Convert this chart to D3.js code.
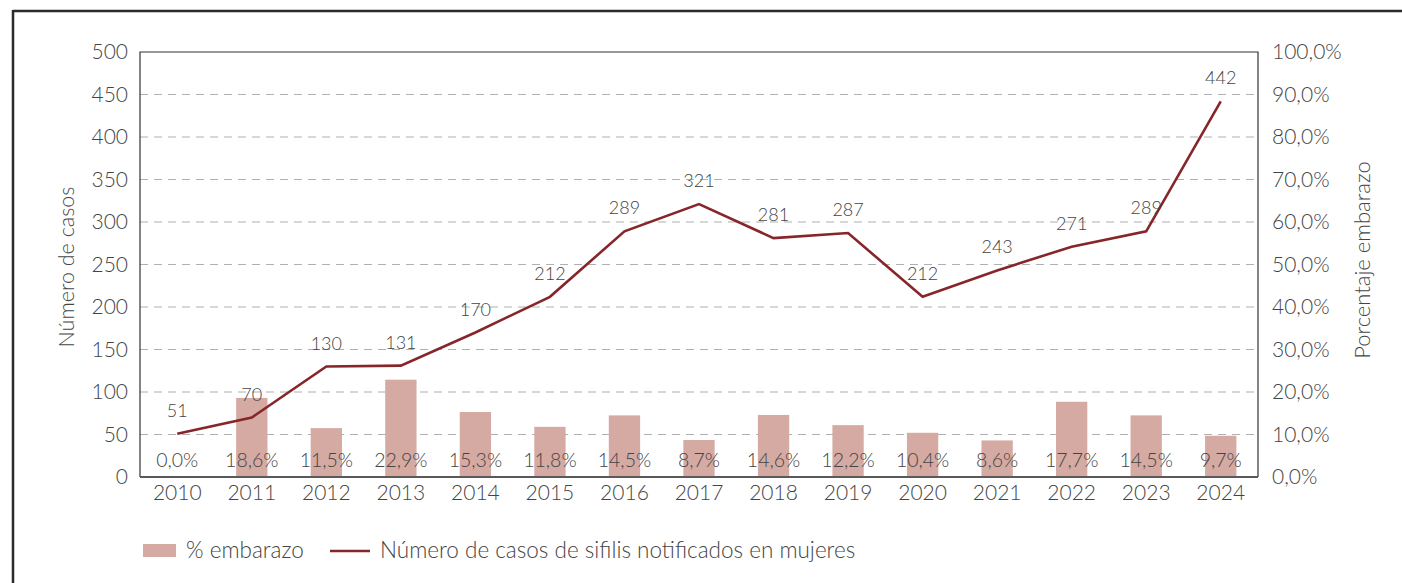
<!DOCTYPE html>
<html>
<head>
<meta charset="utf-8">
<script src="https://cdn.jsdelivr.net/npm/d3@7"></script>
<style>
  body { margin: 0; background: #fff; }
  text { font-family: Lato, "Open Sans", sans-serif; font-weight: 300; fill: #444; }
</style>
</head>
<body>
<svg id="chart" width="1402" height="583"></svg>
<script>
var years = ['2010', '2011', '2012', '2013', '2014', '2015', '2016', '2017', '2018', '2019', '2020', '2021', '2022', '2023', '2024'];
var casos = [51, 70, 130, 131, 170, 212, 289, 321, 281, 287, 212, 243, 271, 289, 442];
var embarazo = [0.0, 18.6, 11.5, 22.9, 15.3, 11.8, 14.5, 8.7, 14.6, 12.2, 10.4, 8.6, 17.7, 14.5, 9.7];
var leftTicks = [0, 50, 100, 150, 200, 250, 300, 350, 400, 450, 500];
var rightTicks = [0, 10, 20, 30, 40, 50, 60, 70, 80, 90, 100];

var svg = d3.select('#chart');
var m = { left: 140, top: 52, right: 1258, bottom: 477 };
var font = 'Lato, "Open Sans", sans-serif';

var x = d3.scaleBand().domain(years).range([m.left, m.right]).paddingInner(0.58).paddingOuter(0.29);
var y = d3.scaleLinear().domain([0, 500]).range([m.bottom, m.top]);
var y2 = d3.scaleLinear().domain([0, 100]).range([m.bottom, m.top]);
var cx = d => x(d) + x.bandwidth() / 2;
var fmt = v => v.toFixed(1).replace('.', ',') + '%';

// outer frame
svg.append('line').attr('x1', 13).attr('x2', 1402).attr('y1', 11).attr('y2', 11)
  .style('stroke', '#2b2b2b').style('stroke-width', 2.5);
svg.append('line').attr('x1', 13).attr('x2', 13).attr('y1', 10).attr('y2', 583)
  .style('stroke', '#2b2b2b').style('stroke-width', 2.5);

// gridlines
svg.append('g').selectAll('line')
  .data(leftTicks.filter(d => d > 0 && d < 500))
  .enter().append('line')
  .attr('x1', m.left).attr('x2', m.right)
  .attr('y1', d => y(d)).attr('y2', d => y(d))
  .style('stroke', '#b0b0b0').style('stroke-width', 1.2).style('stroke-dasharray', '8,6');

// bars
svg.append('g').selectAll('rect')
  .data(embarazo)
  .enter().append('rect')
  .attr('x', (d, i) => x(years[i]))
  .attr('width', x.bandwidth())
  .attr('y', d => y2(d))
  .attr('height', d => m.bottom - y2(d))
  .style('fill', '#d4aaa2');

// plot frame
svg.append('path')
  .attr('d', 'M' + m.left + ',' + m.bottom + 'V' + m.top + 'H' + m.right + 'V' + m.bottom)
  .style('fill', 'none').style('stroke', '#333').style('stroke-width', 1.2);
svg.append('line').attr('x1', m.left).attr('x2', m.right).attr('y1', m.bottom).attr('y2', m.bottom)
  .style('stroke', '#5a5a5a').style('stroke-width', 2);

// line
var line = d3.line().x((d, i) => cx(years[i])).y(d => y(d));
svg.append('path').datum(casos).attr('d', line)
  .style('fill', 'none').style('stroke', '#86262a').style('stroke-width', 2.6);

// value labels
svg.append('g').selectAll('text')
  .data(casos)
  .enter().append('text')
  .attr('x', (d, i) => cx(years[i]))
  .attr('y', d => y(d) - 17)
  .attr('text-anchor', 'middle')
  .style('font-size', '18px')
  .text(d => d);

svg.append('g').selectAll('text')
  .data(embarazo)
  .enter().append('text')
  .attr('x', (d, i) => cx(years[i]))
  .attr('y', 467)
  .attr('text-anchor', 'middle')
  .style('font-size', '19.5px')
  .text(d => fmt(d));

// axes
var gl = svg.append('g').attr('transform', 'translate(' + m.left + ',0)')
  .call(d3.axisLeft(y).tickValues(leftTicks).tickSize(0).tickPadding(12));
var gr = svg.append('g').attr('transform', 'translate(' + m.right + ',0)')
  .call(d3.axisRight(y2).tickValues(rightTicks).tickSize(0).tickPadding(14).tickFormat(fmt));
var gb = svg.append('g').attr('transform', 'translate(0,' + m.bottom + ')')
  .call(d3.axisBottom(x).tickSize(0).tickPadding(8));
[gl, gr, gb].forEach(g => {
  g.select('.domain').remove();
  g.selectAll('text').style('font-size', '21px').style('fill', '#444')
    .style('font-family', font).style('font-weight', 300);
});

// axis titles
svg.append('text')
  .attr('transform', 'translate(74,267) rotate(-90)')
  .attr('text-anchor', 'middle')
  .style('font-size', '21.5px')
  .text('Número de casos');
svg.append('text')
  .attr('transform', 'translate(1370,260) rotate(-90)')
  .attr('text-anchor', 'middle')
  .style('font-size', '22px')
  .text('Porcentaje embarazo');

// legend
var lg = svg.append('g');
lg.append('rect').attr('x', 143).attr('y', 544).attr('width', 33).attr('height', 13).style('fill', '#d4aaa2');
lg.append('text').attr('x', 186).attr('y', 558).style('font-size', '22.5px').text('% embarazo');
lg.append('line').attr('x1', 330).attr('x2', 370).attr('y1', 551).attr('y2', 551)
  .style('stroke', '#86262a').style('stroke-width', 2.6);
lg.append('text').attr('x', 380).attr('y', 558).style('font-size', '22.5px')
  .text('Número de casos de sifilis notificados en mujeres');
</script>
</body>
</html>
